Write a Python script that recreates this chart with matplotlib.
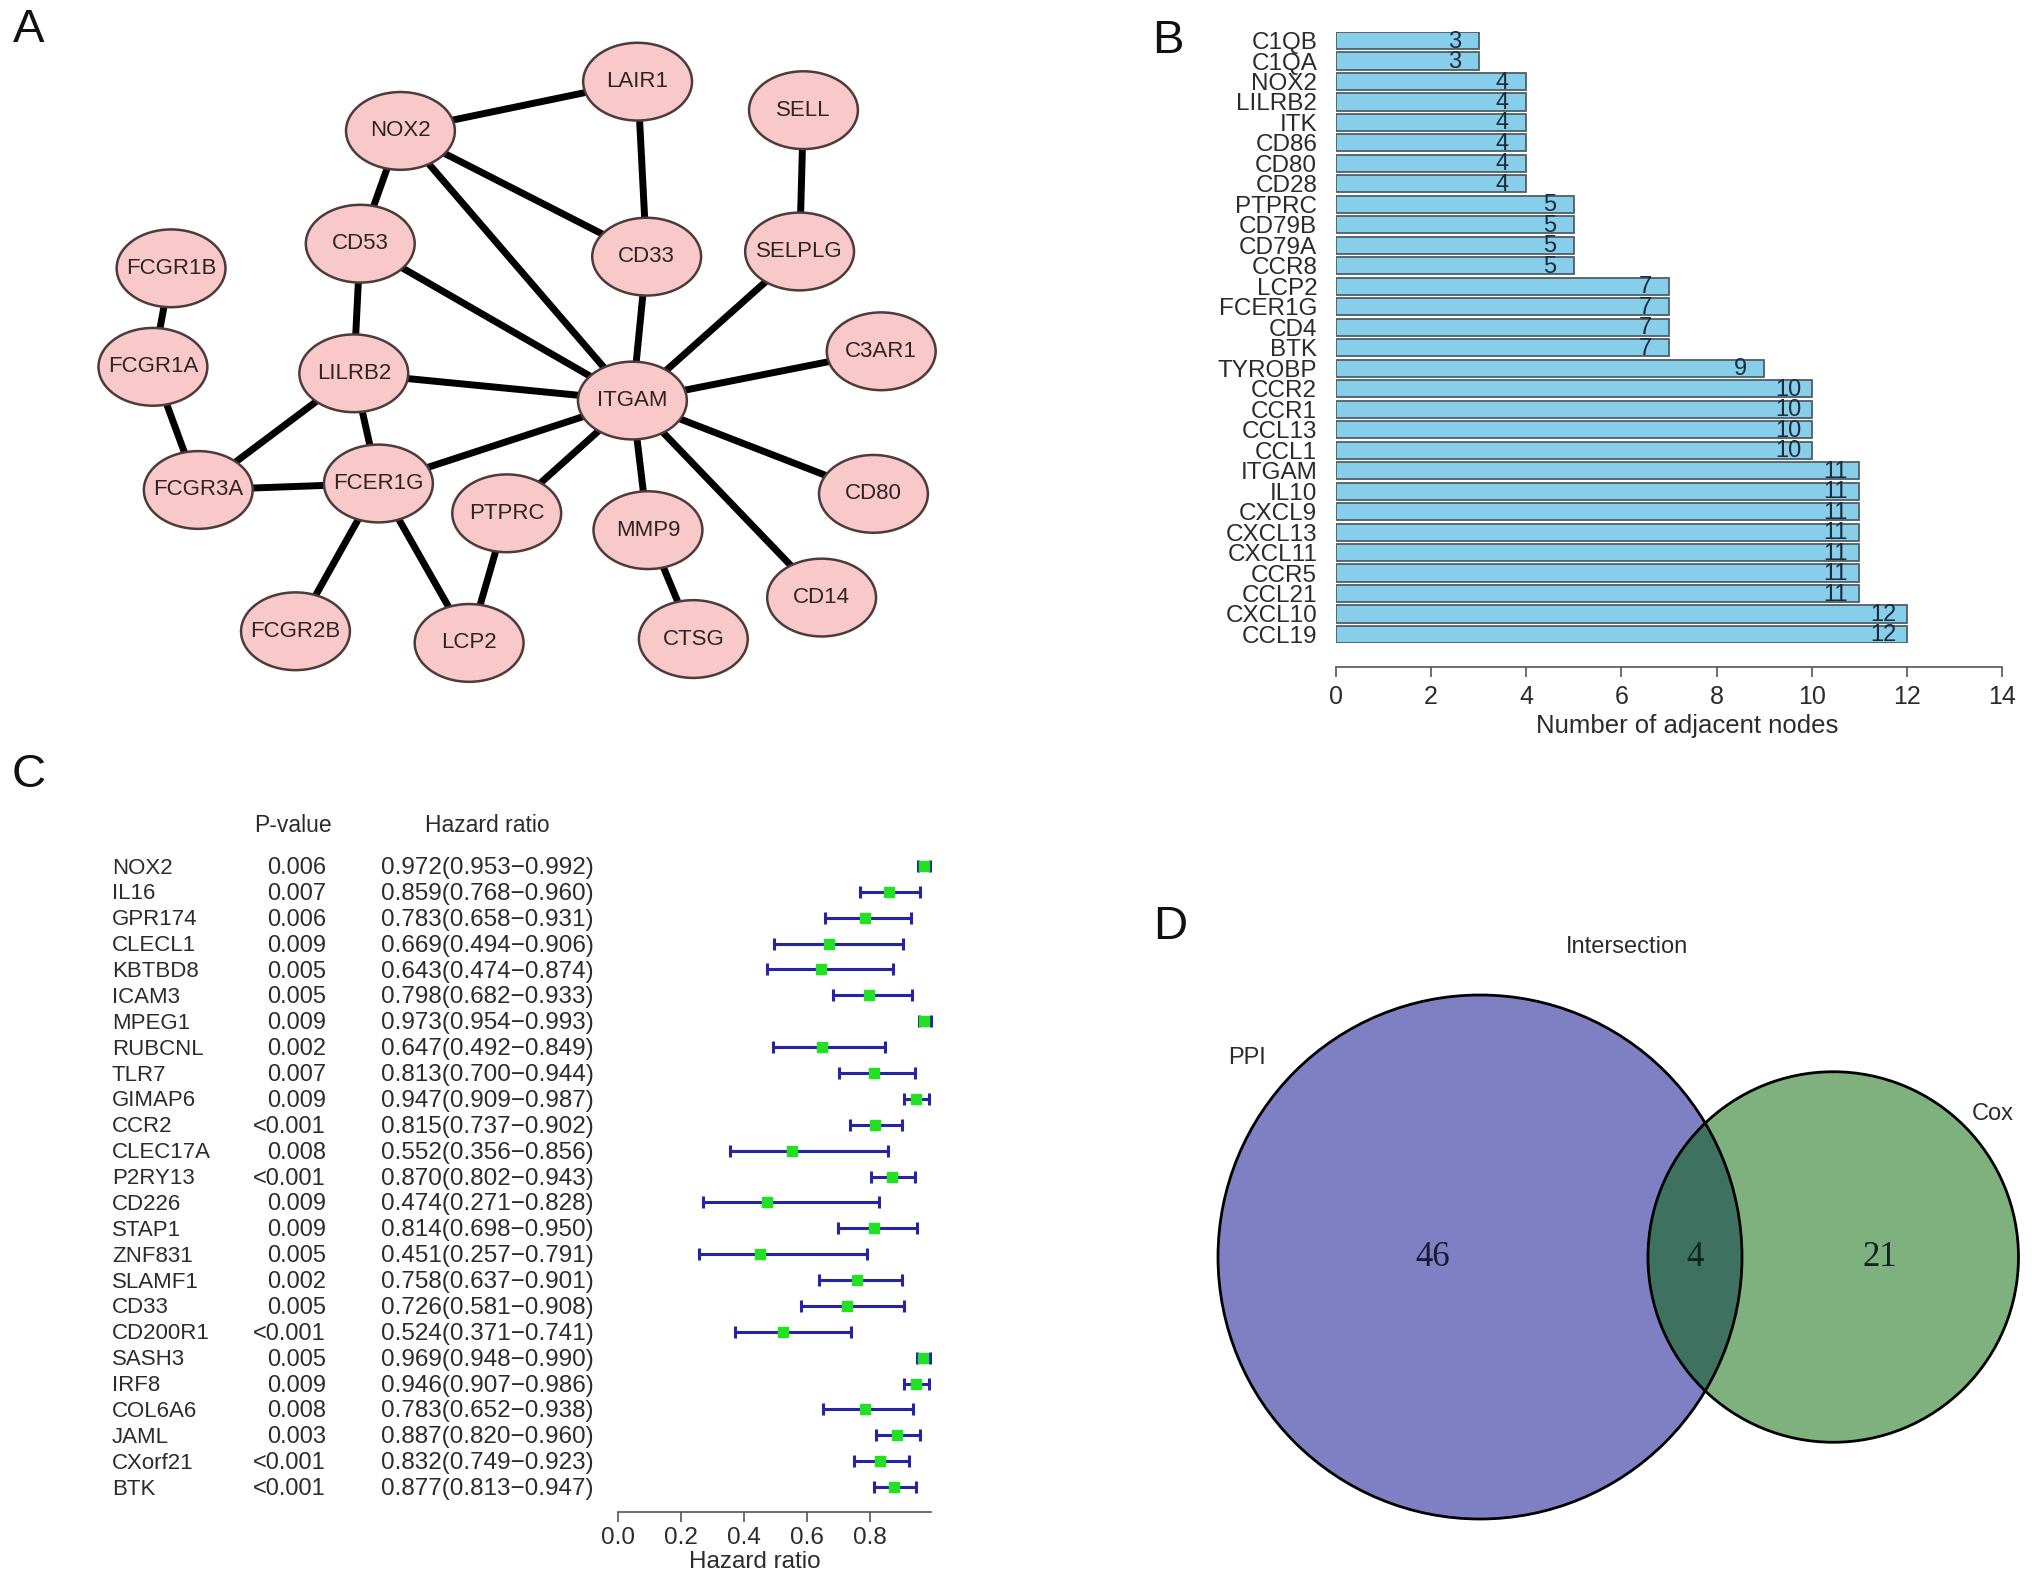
import numpy as np
import matplotlib
matplotlib.use("Agg")
import matplotlib.pyplot as plt
from matplotlib.patches import Ellipse, Circle
import matplotlib.transforms as mtransforms

plt.rcParams['font.family'] = ['Liberation Sans', 'DejaVu Sans']

# ---------------- Panel A: PPI network ----------------
node_names = ["LAIR1", "SELL", "NOX2", "CD53", "CD33", "SELPLG", "FCGR1B", "FCGR1A",
              "LILRB2", "ITGAM", "C3AR1", "FCGR3A", "FCER1G", "PTPRC", "MMP9", "CD80",
              "CD14", "FCGR2B", "LCP2", "CTSG"]
node_x = [492, 620, 309, 278, 499, 617, 132, 118, 273, 488, 680, 153, 292, 391, 500, 674,
          634, 228, 362, 535]
node_y = [63, 85, 101, 188, 198, 194, 207, 283, 288, 309, 271, 378, 373, 396, 409, 381,
          461, 487, 496, 493]
edges = [("NOX2", "LAIR1"), ("NOX2", "CD53"), ("NOX2", "ITGAM"), ("NOX2", "CD33"),
         ("LAIR1", "CD33"), ("SELL", "SELPLG"), ("CD53", "LILRB2"), ("CD53", "ITGAM"),
         ("CD33", "ITGAM"), ("SELPLG", "ITGAM"), ("FCGR1B", "FCGR1A"), ("FCGR1A", "FCGR3A"),
         ("LILRB2", "ITGAM"), ("LILRB2", "FCGR3A"), ("LILRB2", "FCER1G"), ("C3AR1", "ITGAM"),
         ("FCGR3A", "FCER1G"), ("FCER1G", "ITGAM"), ("ITGAM", "PTPRC"), ("ITGAM", "MMP9"),
         ("ITGAM", "CD80"), ("ITGAM", "CD14"), ("FCER1G", "FCGR2B"), ("FCER1G", "LCP2"),
         ("PTPRC", "LCP2"), ("MMP9", "CTSG")]

# ---------------- Panel B: degree bar chart ----------------
b_genes = ["C1QB", "C1QA", "NOX2", "LILRB2", "ITK", "CD86", "CD80", "CD28", "PTPRC", "CD79B",
           "CD79A", "CCR8", "LCP2", "FCER1G", "CD4", "BTK", "TYROBP", "CCR2", "CCR1", "CCL13",
           "CCL1", "ITGAM", "IL10", "CXCL9", "CXCL13", "CXCL11", "CCR5", "CCL21", "CXCL10", "CCL19"]
b_values = [3, 3, 4, 4, 4, 4, 4, 4, 5, 5, 5, 5, 7, 7, 7, 7, 9, 10, 10, 10, 10, 11, 11, 11, 11,
            11, 11, 11, 12, 12]
b_ticks = [0, 2, 4, 6, 8, 10, 12, 14]

# ---------------- Panel C: forest plot ----------------
c_genes = ["NOX2", "IL16", "GPR174", "CLECL1", "KBTBD8", "ICAM3", "MPEG1", "RUBCNL", "TLR7",
           "GIMAP6", "CCR2", "CLEC17A", "P2RY13", "CD226", "STAP1", "ZNF831", "SLAMF1", "CD33",
           "CD200R1", "SASH3", "IRF8", "COL6A6", "JAML", "CXorf21", "BTK"]
c_pval = ["0.006", "0.007", "0.006", "0.009", "0.005", "0.005", "0.009", "0.002", "0.007",
          "0.009", "<0.001", "0.008", "<0.001", "0.009", "0.009", "0.005", "0.002", "0.005",
          "<0.001", "0.005", "0.009", "0.008", "0.003", "<0.001", "<0.001"]
c_hr = [0.972, 0.859, 0.783, 0.669, 0.643, 0.798, 0.973, 0.647, 0.813, 0.947, 0.815, 0.552,
        0.870, 0.474, 0.814, 0.451, 0.758, 0.726, 0.524, 0.969, 0.946, 0.783, 0.887, 0.832, 0.877]
c_lo = [0.953, 0.768, 0.658, 0.494, 0.474, 0.682, 0.954, 0.492, 0.700, 0.909, 0.737, 0.356,
        0.802, 0.271, 0.698, 0.257, 0.637, 0.581, 0.371, 0.948, 0.907, 0.652, 0.820, 0.749, 0.813]
c_hi = [0.992, 0.960, 0.931, 0.906, 0.874, 0.933, 0.993, 0.849, 0.944, 0.987, 0.902, 0.856,
        0.943, 0.828, 0.950, 0.791, 0.901, 0.908, 0.741, 0.990, 0.986, 0.938, 0.960, 0.923, 0.947]
c_ticks = [0.0, 0.2, 0.4, 0.6, 0.8]

# ---------------- Panel D: Venn ----------------
venn_sets = ["PPI", "Cox"]
venn_only_a = 46
venn_both = 4
venn_only_b = 21

W, H = 2032, 1584
fig = plt.figure(figsize=(W / 100, H / 100), dpi=100)


def fx(px):
    return px / W


def fy(py):
    return 1 - py / H


TXT = "#2b2b2b"

# ======== A ========
ax_a = fig.add_axes([0, 1 - 560 / 1222, 760 / 1568, 560 / 1222])
ax_a.set_xlim(0, 760)
ax_a.set_ylim(560, 0)
ax_a.axis("off")
pos = {n: (x, y) for n, x, y in zip(node_names, node_x, node_y)}
for a, b in edges:
    (x1, y1), (x2, y2) = pos[a], pos[b]
    ax_a.plot([x1, x2], [y1, y2], color="black", lw=5, solid_capstyle="butt", zorder=1)
for n in node_names:
    x, y = pos[n]
    ax_a.add_patch(Ellipse((x, y), 84, 60, facecolor="#F9C8C8", edgecolor="#4d3b3b",
                           lw=1.8, zorder=2))
    ax_a.text(x, y, n, ha="center", va="center", fontsize=16, color="#2e2426", zorder=3)

# ======== B ========
ax_b = fig.add_axes([fx(1336), fy(643), (2002 - 1336) / W, (643 - 32) / H])
for s in ["left", "right", "top"]:
    ax_b.spines[s].set_visible(False)
ax_b.spines["bottom"].set_position(("outward", 17.3))
ax_b.spines["bottom"].set_color("#555555")
ax_b.spines["bottom"].set_linewidth(1.2)
yb = np.arange(len(b_genes))
bh = 0.833
ax_b.barh(yb, b_values, height=bh, color="#87CEEB", edgecolor="#4f5f66", lw=1.3)
ax_b.set_ylim(len(b_genes) - 1 + bh / 2, -bh / 2)
ax_b.set_xlim(0, 14)
ax_b.spines["bottom"].set_bounds(0, 14)
for i, v in enumerate(b_values):
    ax_b.text(v - 0.5, i + 0.05, str(v), ha="center", va="center", fontsize=17, color="#1e2b3a")
ax_b.set_yticks(yb)
ax_b.set_yticklabels(b_genes)
ax_b.set_xticks(b_ticks)
ax_b.set_xticklabels([str(t) for t in b_ticks])
ax_b.tick_params(axis="y", length=0, pad=13.5, labelsize=17.5, labelcolor=TXT)
ax_b.tick_params(axis="x", length=7, width=1.2, color="#555555", pad=6,
                 labelsize=18, labelcolor=TXT)
fig.text(fx(1687), fy(726), "Number of adjacent nodes", ha="center", va="center",
         fontsize=18.5, color=TXT)

# ======== C ========
ax_c = fig.add_axes([fx(618), fy(1500), 315 / W, (1500 - 853) / H])
for s in ["left", "right", "top"]:
    ax_c.spines[s].set_visible(False)
ax_c.spines["bottom"].set_position(("outward", 8.6))
ax_c.spines["bottom"].set_color("#555555")
ax_c.spines["bottom"].set_linewidth(1.2)
yc = np.arange(len(c_genes))
hr = np.array(c_hr)
lo = np.array(c_lo)
hi = np.array(c_hi)
ax_c.errorbar(hr, yc, xerr=[hr - lo, hi - hr], fmt="none", ecolor="#2424a4",
              elinewidth=2.2, capsize=4.5, capthick=2.2, zorder=2)
ax_c.plot(hr, yc, "s", color="#22e022", ms=7.5, mec="#22e022", zorder=3)
ax_c.set_xlim(0, 1)
ax_c.set_ylim(len(c_genes) - 0.5, -0.5)
ax_c.spines["bottom"].set_bounds(0, hi.max())
ax_c.set_yticks([])
ax_c.set_xticks(c_ticks)
ax_c.set_xticklabels([f"{t:.1f}" for t in c_ticks])
ax_c.tick_params(axis="x", length=7, width=1.2, color="#555555", pad=4,
                 labelsize=17.5, labelcolor=TXT)
fig.text(fx(755), fy(1562), "Hazard ratio", ha="center", va="center", fontsize=17.5, color=TXT)

trans = mtransforms.blended_transform_factory(fig.transFigure, ax_c.transData)
hdr_y = -1.55
ax_c.text(fx(293), hdr_y, "P-value", transform=trans, ha="center", va="center",
          fontsize=16.5, color=TXT, clip_on=False)
ax_c.text(fx(487), hdr_y, "Hazard ratio", transform=trans, ha="center", va="center",
          fontsize=16.5, color=TXT, clip_on=False)
for i, g in enumerate(c_genes):
    ax_c.text(fx(112), i + 0.08, g, transform=trans, ha="left", va="center", fontsize=16,
              color=TXT, clip_on=False)
    ax_c.text(fx(326), i + 0.08, c_pval[i], transform=trans, ha="right", va="center",
              fontsize=17, color=TXT, clip_on=False)
    ax_c.text(fx(381), i + 0.08, f"{c_hr[i]:.3f}({c_lo[i]:.3f}\u2212{c_hi[i]:.3f})",
              transform=trans, ha="left", va="center", fontsize=17.5, color=TXT,
              clip_on=False)

# ======== D ========
ax_d = fig.add_axes([fx(1100), 0, (W - 1100) / W, (H - 850) / H])
ax_d.set_xlim(1100, W)
ax_d.set_ylim(H, 850)
ax_d.axis("off")

n_a = venn_only_a + venn_both
n_b = venn_only_b + venn_both
K = 262 / np.sqrt(n_a)
r1 = K * np.sqrt(n_a)
r2 = K * np.sqrt(n_b)
target = venn_both * np.pi * K ** 2


def lens(d):
    a1 = np.arccos(np.clip((d * d + r1 * r1 - r2 * r2) / (2 * d * r1), -1, 1))
    a2 = np.arccos(np.clip((d * d + r2 * r2 - r1 * r1) / (2 * d * r2), -1, 1))
    t = (-d + r1 + r2) * (d + r1 - r2) * (d - r1 + r2) * (d + r1 + r2)
    return r1 * r1 * a1 + r2 * r2 * a2 - 0.5 * np.sqrt(max(t, 0))


lo_d, hi_d = r1 - r2 + 1e-6, r1 + r2
for _ in range(100):
    mid = 0.5 * (lo_d + hi_d)
    if lens(mid) > target:
        lo_d = mid
    else:
        hi_d = mid
dist = 0.5 * (lo_d + hi_d)

cx1, cy = 1480, 1257
cx2 = cx1 + dist
ax_d.add_patch(Circle((cx1, cy), r1, facecolor="#00008B", alpha=0.5, edgecolor="none", zorder=1))
ax_d.add_patch(Circle((cx2, cy), r2, facecolor="#006400", alpha=0.5, edgecolor="none", zorder=2))
ax_d.add_patch(Circle((cx1, cy), r1, facecolor="none", edgecolor="black", lw=2, zorder=3))
ax_d.add_patch(Circle((cx2, cy), r2, facecolor="none", edgecolor="black", lw=2, zorder=3))

serif = ["Liberation Serif", "DejaVu Serif"]
ax_d.text(((cx1 - r1) + (cx2 - r2)) / 2, cy, str(venn_only_a), ha="center", va="center",
          fontsize=25, family=serif, color="#1a1a33", zorder=4)
ax_d.text(((cx2 - r2) + (cx1 + r1)) / 2, cy, str(venn_both), ha="center", va="center",
          fontsize=25, family=serif, color="#10231c", zorder=4)
ax_d.text(((cx1 + r1) + (cx2 + r2)) / 2, cy, str(venn_only_b), ha="center", va="center",
          fontsize=25, family=serif, color="#10231c", zorder=4)
ax_d.text(1247, 1058, venn_sets[0], ha="center", va="center", fontsize=17, color=TXT)
ax_d.text(1993, 1114, venn_sets[1], ha="center", va="center", fontsize=17, color=TXT)
ax_d.text(1627, 947, "Intersection", ha="center", va="center", fontsize=17, color=TXT)

# ======== panel letters ========
for lab, (px, py) in zip(["A", "B", "C", "D"],
                         [(29, 30), (1168, 41), (29, 775), (1170, 927)]):
    fig.text(fx(px), fy(py), lab, ha="center", va="center", fontsize=34, color="#111111")

fig.savefig("out.png", dpi=100)
